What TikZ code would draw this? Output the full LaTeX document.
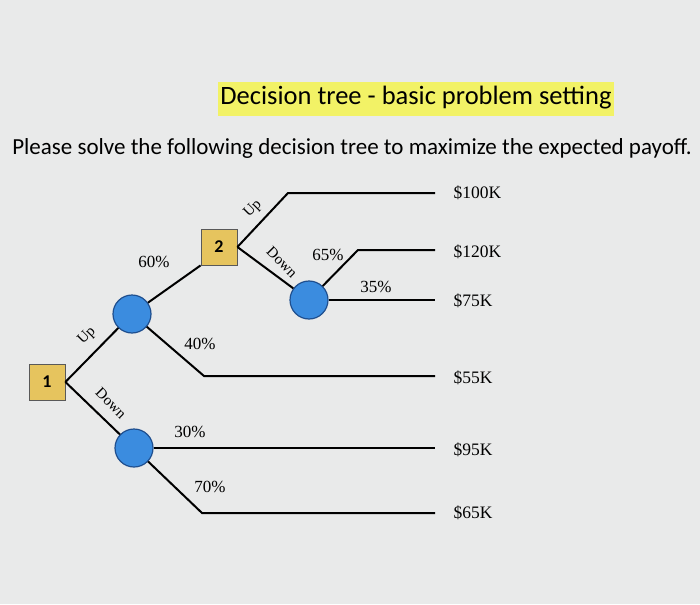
\documentclass[tikz,border=0pt]{standalone}
\usepackage{fontspec}
\setmainfont{Liberation Serif}
\newfontfamily\calib{Carlito}
\definecolor{bg}{HTML}{E9EAEA}
\definecolor{chance}{HTML}{3B8CDF}
\definecolor{chanceb}{HTML}{1F4F8F}
\definecolor{dec}{HTML}{E6C45E}
\definecolor{hl}{HTML}{F2F266}
\begin{document}
\begin{tikzpicture}[x=1pt,y=-1pt,
  cnode/.style={circle,draw=chanceb,fill=chance,line width=1.2pt,minimum size=38pt,inner sep=0pt},
  dnode/.style={rectangle,draw=gray!70!black,fill=dec,line width=0.8pt,minimum size=36pt,inner sep=0pt,font=\calib\bfseries\fontsize{18}{18}\selectfont},
  br/.style={line width=2pt,black},
  pct/.style={font=\fontsize{17}{17}\selectfont},
  pay/.style={font=\fontsize{17.5}{17.5}\selectfont,anchor=west},
  lab/.style={font=\fontsize{15}{15}\selectfont}]
\fill[bg] (0,0) rectangle (700,604);
\useasboundingbox (0,0) rectangle (700,604);
\fill[hl] (218,82) rectangle (614,116);
\node[font=\calib\fontsize{26.5}{26.5}\selectfont] (title) at (416,98) {Decision tree - basic problem setting};
\node[font=\calib\fontsize{23}{23}\selectfont] (sub) at (352,148) {Please solve the following decision tree to maximize the expected payoff.};
% nodes
\node[dnode] (d1) at (47,382) {1};
\node[dnode] (d2) at (219,247) {2};
\node[cnode] (a) at (132,314) {};
\node[cnode] (b) at (134,448) {};
\node[cnode] (c) at (309,300) {};
% coordinates
\coordinate (u2) at (288,193); \coordinate (e100) at (435,193);
\coordinate (u3) at (358,250); \coordinate (e120) at (435,250);
\coordinate (e75) at (435,300);
\coordinate (a2) at (204,376); \coordinate (e55) at (435,376);
\coordinate (e95) at (435,448);
\coordinate (b2) at (202,513); \coordinate (e65) at (435,513);
% branches
\draw[br] (d1.east) -- (a);
\draw[br] (d1.east) -- (b);
\draw[br] (a) -- (d2.south west);
\draw[br] (a) -- (a2) -- (e55);
\draw[br] (d2.east) -- (u2) -- (e100);
\draw[br] (d2.east) -- (c);
\draw[br] (c) -- (u3) -- (e120);
\draw[br] (c) -- (e75);
\draw[br] (b) -- (e95);
\draw[br] (b) -- (b2) -- (e65);
% labels
\node[lab,rotate=45] (lu1) at (87,336) {Up};
\node[lab,rotate=-45] (ld1) at (111,403) {Down};
\node[lab,rotate=45] (lu2) at (253,209) {Up};
\node[lab,rotate=-45] (ld2) at (282,262) {Down};
\node[pct] (p60) at (154,262) {60\%};
\node[pct] (p40) at (200,344) {40\%};
\node[pct] (p65) at (328,255) {65\%};
\node[pct] (p35) at (376,287) {35\%};
\node[pct] (p30) at (190,432) {30\%};
\node[pct] (p70) at (210,487) {70\%};
\node[pay] (v100) at (450,193) {\$100K};
\node[pay] (v120) at (450,252) {\$120K};
\node[pay] (v75) at (450,301) {\$75K};
\node[pay] (v55) at (450,378) {\$55K};
\node[pay] (v95) at (450,450) {\$95K};
\node[pay] (v65) at (450,513) {\$65K};
\end{tikzpicture}
\end{document}
